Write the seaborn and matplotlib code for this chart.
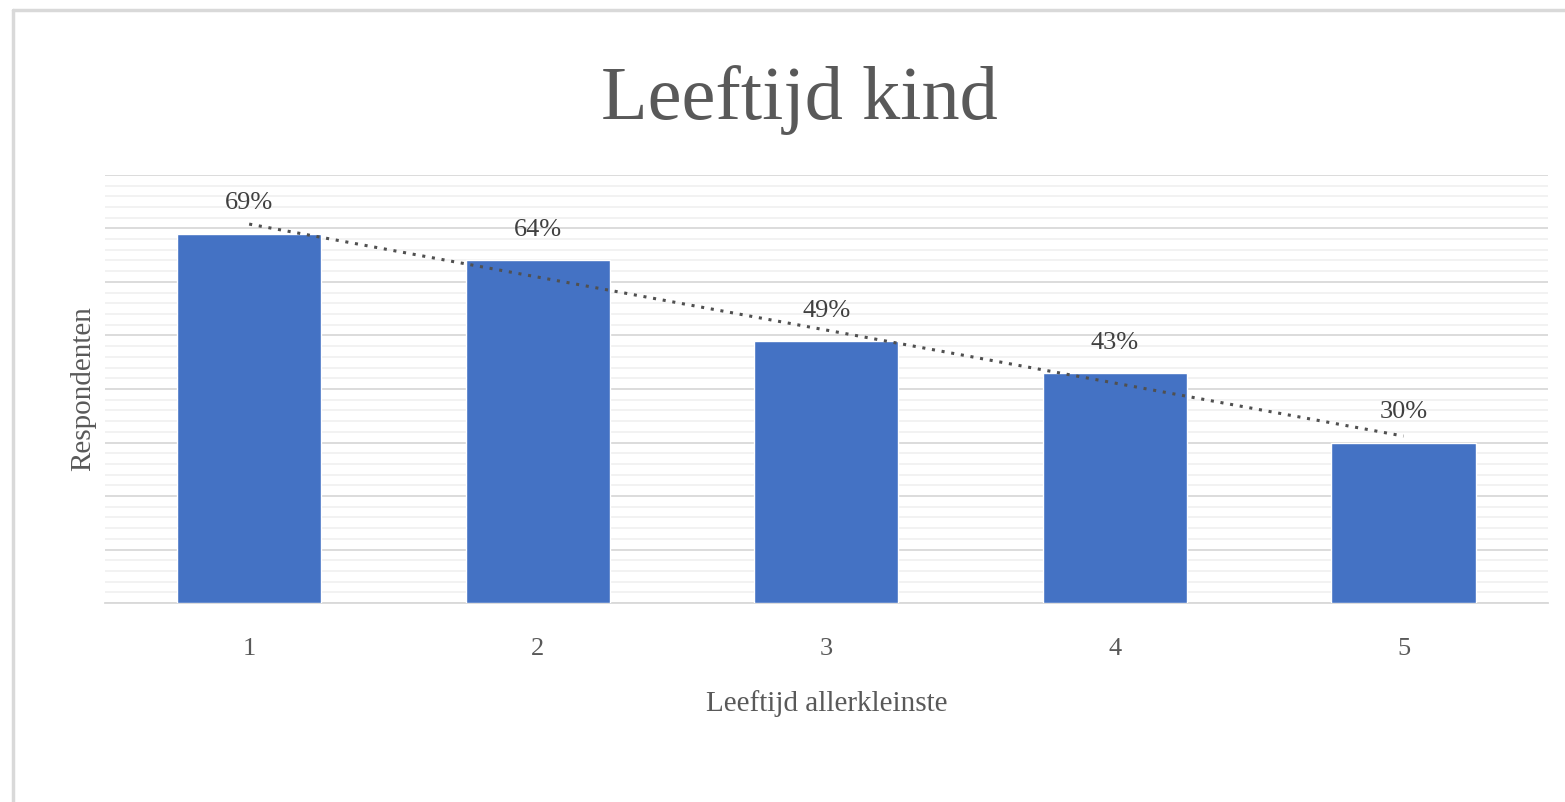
import matplotlib
matplotlib.use('Agg')
import numpy as np
import pandas as pd
import matplotlib.pyplot as plt
import seaborn as sns
from matplotlib.ticker import MultipleLocator

# Data
leeftijd = ['1', '2', '3', '4', '5']
percentage = [69, 64, 49, 43, 30]
labels = ['69%', '64%', '49%', '43%', '30%']

df = pd.DataFrame({'Leeftijd': leeftijd, 'Percentage': percentage})

sns.set_style('white')
plt.rcParams['font.family'] = ['Liberation Serif', 'DejaVu Serif']

fig = plt.figure(figsize=(15.65, 8.02), dpi=100)
ax = fig.add_axes([0.067, 0.248, 0.922, 0.534])

sns.barplot(data=df, x='Leeftijd', y='Percentage', color='#4472C4',
            saturation=1, width=0.5, ax=ax, zorder=3)

# linear trend line (dotted)
xs = np.arange(len(percentage))
slope, intercept = np.polyfit(xs, percentage, 1)
ax.plot(xs, slope * xs + intercept, linestyle=(0, (1, 2.2)), color='#505050',
        linewidth=2.2, zorder=4)

# value labels
for i, (v, lab) in enumerate(zip(percentage, labels)):
    ax.text(i, v + 3.6, lab, ha='center', va='bottom', fontsize=19, color='#404040')

ax.set_ylim(0, 80)
ax.set_xlim(-0.5, 4.5)
ax.yaxis.set_major_locator(MultipleLocator(10))
ax.yaxis.set_minor_locator(MultipleLocator(2))
ax.grid(axis='y', which='major', color='#d9d9d9', linewidth=1.3, zorder=0)
ax.grid(axis='y', which='minor', color='#efefef', linewidth=1.1, zorder=0)
ax.set_axisbelow(True)
ax.set_yticklabels([])
ax.tick_params(axis='y', which='both', length=0)
ax.tick_params(axis='x', length=0, labelsize=19, labelcolor='#595959', pad=25)

for s in ['top', 'right', 'left']:
    ax.spines[s].set_visible(False)
ax.spines['bottom'].set_color('#d9d9d9')
ax.spines['bottom'].set_linewidth(1.3)

ax.set_xlabel('Leeftijd allerkleinste', fontsize=21, color='#595959', labelpad=22)
ax.set_ylabel('Respondenten', fontsize=21, color='#595959', labelpad=3)

fig.text(0.511, 0.875, 'Leeftijd kind', ha='center', va='center',
         fontsize=55, color='#595959')

# chart frame
fig.add_artist(plt.Line2D([0.008, 0.008], [0.0, 0.988], color='#d9d9d9', linewidth=2.5))
fig.add_artist(plt.Line2D([0.008, 1.0], [0.988, 0.988], color='#d9d9d9', linewidth=2.5))

fig.savefig('out.png', dpi=100)
